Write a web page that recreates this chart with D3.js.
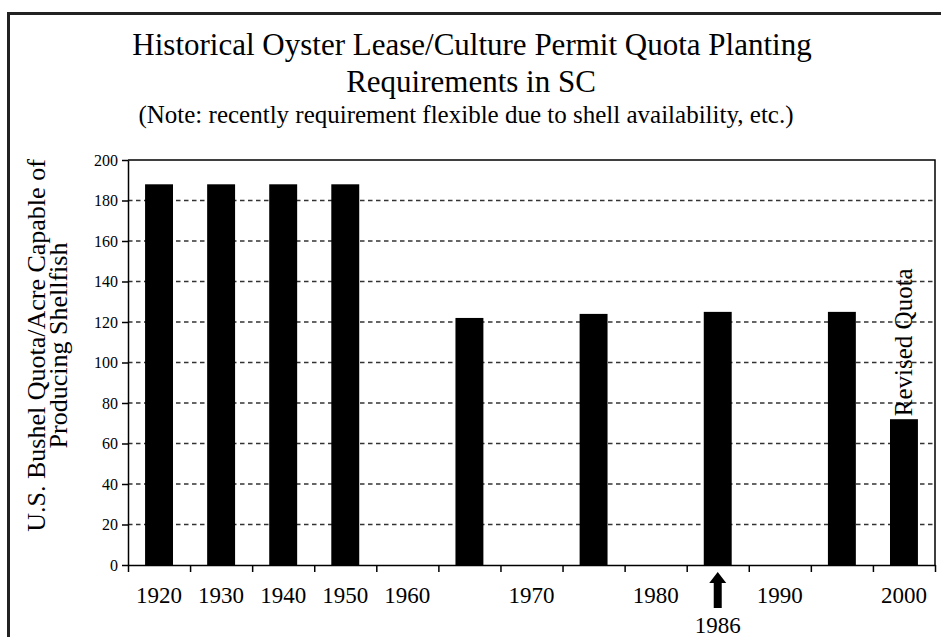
<!DOCTYPE html>
<html>
<head>
<meta charset="utf-8">
<script src="https://cdn.jsdelivr.net/npm/d3@7"></script>
<style>
  html, body { margin: 0; padding: 0; background: #fff; }
  svg { display: block; }
  text { font-family: "Liberation Serif", "Times New Roman", serif; fill: #000; }
</style>
</head>
<body>
<svg id="chart" width="941" height="637"></svg>
<script>
// ---- data ----
const categories = ["1920","1930","1940","1950","1960","1965","1970","1975","1980","1986","1990","1995","2000"];
const tickLabels = ["1920","1930","1940","1950","1960","","1970","","1980","","1990","","2000"];
const quota = [188, 188, 188, 188, 0, 122, 0, 124, 0, 125, 0, 125, 72];
const yTicks = [0, 20, 40, 60, 80, 100, 120, 140, 160, 180, 200];
const titleLines = ["Historical Oyster Lease/Culture Permit Quota Planting", "Requirements in SC"];
const noteText = "(Note: recently requirement flexible due to shell availability, etc.)";
const yTitleLines = ["U.S. Bushel Quota/Acre Capable of", "Producing Shellfish"];
const arrowCategory = "1986";
const arrowLabel = "1986";
const revisedCategory = "2000";
const revisedLabel = "Revised Quota";

// ---- layout ----
const W = 941, H = 637;
const m = { left: 128, right: 6, top: 160, bottom: 72 };
const svg = d3.select("#chart");

// outer frame (right and bottom edges lie outside the picture)
svg.append("rect")
  .attr("x", 8.5).attr("y", 13.5)
  .attr("width", W + 20).attr("height", H + 20)
  .attr("fill", "none").attr("stroke", "#222").attr("stroke-width", 3);

const x = d3.scaleBand()
  .domain(categories)
  .range([m.left, W - m.right])
  .paddingInner(0.55)
  .paddingOuter(0.275);

const xi = d3.scaleLinear()
  .domain([0, categories.length])
  .range([m.left, W - m.right]);

const y = d3.scaleLinear()
  .domain([0, 200])
  .range([H - m.bottom, m.top]);

// titles
const title = svg.append("g").attr("text-anchor", "middle");
title.append("text").attr("x", 472).attr("y", 55).attr("font-size", 31).text(titleLines[0]);
title.append("text").attr("x", 471).attr("y", 92).attr("font-size", 31).text(titleLines[1]);
title.append("text").attr("x", 466).attr("y", 123).attr("font-size", 25).text(noteText);

// y-axis title (two rotated lines)
const yCenter = (y(0) + y(200)) / 2 - 17;
svg.append("text")
  .attr("transform", `translate(45,${yCenter}) rotate(-90)`)
  .attr("text-anchor", "middle").attr("font-size", 26)
  .text(yTitleLines[0]);
svg.append("text")
  .attr("transform", `translate(67,${yCenter}) rotate(-90)`)
  .attr("text-anchor", "middle").attr("font-size", 26)
  .text(yTitleLines[1]);

// gridlines
svg.append("g")
  .selectAll("line")
  .data(yTicks.filter(d => d > 0 && d < 200))
  .join("line")
  .attr("x1", m.left).attr("x2", W - m.right)
  .attr("y1", d => y(d)).attr("y2", d => y(d))
  .attr("stroke", "#333").attr("stroke-width", 1.4)
  .attr("stroke-dasharray", "4.5,3.5");

// plot frame top & right
svg.append("path")
  .attr("d", `M${m.left},${y(200)}H${W - m.right}V${y(0)}`)
  .attr("fill", "none").attr("stroke", "#000").attr("stroke-width", 1.5);

// bars
const data = categories.map((c, i) => ({ c, v: quota[i] })).filter(d => d.v > 0);
svg.append("g")
  .selectAll("rect")
  .data(data)
  .join("rect")
  .attr("x", d => x(d.c))
  .attr("width", x.bandwidth())
  .attr("y", d => y(d.v))
  .attr("height", d => y(0) - y(d.v))
  .attr("fill", "#000");

// y axis
const yAxis = svg.append("g")
  .attr("transform", `translate(${m.left},0)`)
  .call(d3.axisLeft(y).tickValues(yTicks).tickSize(6).tickSizeOuter(0).tickPadding(4));
yAxis.selectAll("text").attr("font-size", 16).style("font-family", "Liberation Serif");
yAxis.selectAll("line, path").attr("stroke", "#000").attr("stroke-width", 1.5);

// x axis: boundary ticks
const xTickAxis = svg.append("g")
  .attr("transform", `translate(0,${y(0)})`)
  .call(d3.axisBottom(xi).tickValues(d3.range(categories.length + 1)).tickFormat("").tickSize(7).tickSizeOuter(0));
xTickAxis.selectAll("line, path").attr("stroke", "#000").attr("stroke-width", 1.5);

// x axis: labels at band centres
const xLabelAxis = svg.append("g")
  .attr("transform", `translate(0,${y(0)})`)
  .call(d3.axisBottom(x).tickFormat((d, i) => tickLabels[i]).tickSize(0).tickPadding(22));
xLabelAxis.select(".domain").remove();
xLabelAxis.selectAll("text").attr("font-size", 23).style("font-family", "Liberation Serif");

// arrow under 1986
const ax = x(arrowCategory) + x.bandwidth() / 2;
const tipY = y(0) + 7;
svg.append("path")
  .attr("d", `M${ax},${tipY} L${ax + 8.5},${tipY + 11} L${ax + 4},${tipY + 11} L${ax + 4},${tipY + 36} L${ax - 4},${tipY + 36} L${ax - 4},${tipY + 11} L${ax - 8.5},${tipY + 11} Z`)
  .attr("fill", "#000");
svg.append("text")
  .attr("x", ax).attr("y", 633)
  .attr("text-anchor", "middle").attr("font-size", 23)
  .text(arrowLabel);

// revised quota label
const rx = x(revisedCategory) + x.bandwidth() / 2 + 8;
svg.append("text")
  .attr("transform", `translate(${rx},${y(quota[categories.indexOf(revisedCategory)]) - 3}) rotate(-90)`)
  .attr("text-anchor", "start").attr("font-size", 25)
  .text(revisedLabel);
</script>
</body>
</html>
